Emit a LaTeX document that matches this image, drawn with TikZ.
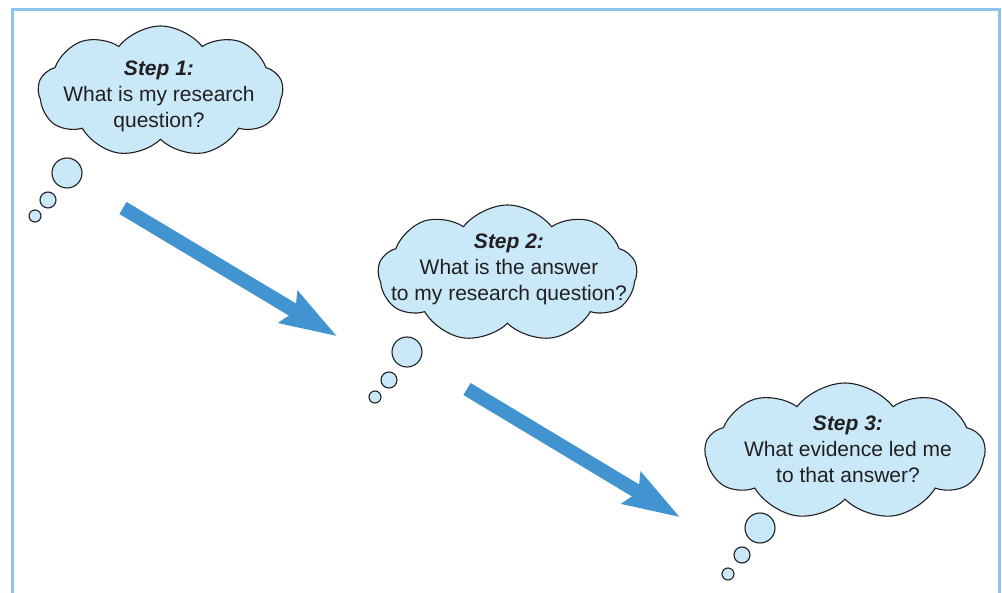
\documentclass[tikz,border=0pt]{standalone}
\usepackage{fontspec}
\setmainfont{Liberation Sans}
\usetikzlibrary{shapes.symbols,arrows.meta}
\definecolor{framec}{HTML}{8CC3EC}
\definecolor{cloudfill}{HTML}{C9E9F8}
\definecolor{inkc}{HTML}{231F20}
\definecolor{arrowc}{HTML}{4294D0}
\tikzset{
  thought/.style={cloud, cloud puffs=9, cloud puff arc=105, aspect=2,
    draw=inkc, fill=cloudfill, line width=1.1pt, inner sep=0pt},
  bubble/.style={circle, draw=inkc, fill=cloudfill, line width=1.1pt, inner sep=0pt},
  thoughttext/.style={align=center, text=inkc, font=\fontsize{21}{26}\selectfont},
  bigarrow/.style={arrowc, line width=14pt,
    -{Stealth[length=56pt, width=35pt, inset=7pt]}},
  framestyle/.style={framec, line width=3pt}
}
\begin{document}
\begin{tikzpicture}[x=1pt,y=-1pt]
\useasboundingbox (0,0) rectangle (1002,593);
\draw[framestyle] (12,595) -- (12,9.5) -- (999,9.5) -- (999,595);

% cloud 1
\node[thought, minimum width=245pt, minimum height=131pt] (c1) at (160.5,91.5) {};
\node[thoughttext] (t1) at (159,96) {\textbf{\textit{Step 1:}}\\What is my research\\question?};
\node[bubble, minimum size=30pt] (b1a) at (67,173) {};
\node[bubble, minimum size=16pt] (b1b) at (48,200) {};
\node[bubble, minimum size=12pt] (b1c) at (35,216) {};

% cloud 2
\node[thought, minimum width=259pt, minimum height=137pt] (c2) at (507.5,273.5) {};
\node[thoughttext] (t2) at (509,269) {\textbf{\textit{Step 2:}}\\What is the answer\\to my research question?};
\node[bubble, minimum size=30pt] (b2a) at (407,352) {};
\node[bubble, minimum size=16pt] (b2b) at (389,380) {};
\node[bubble, minimum size=12pt] (b2c) at (375,397) {};

% cloud 3
\node[thought, minimum width=280pt, minimum height=137pt] (c3) at (845,451.5) {};
\node[thoughttext] (t3) at (848,449) {\textbf{\textit{Step 3:}}\\What evidence led me\\to that answer?};
\node[bubble, minimum size=30pt] (b3a) at (760,528) {};
\node[bubble, minimum size=16pt] (b3b) at (742,555) {};
\node[bubble, minimum size=12pt] (b3c) at (728,574) {};

% arrows
\coordinate (a1s) at (123,208);
\coordinate (a1e) at (337.5,336.5);
\coordinate (a2s) at (467,389);
\coordinate (a2e) at (680.5,517.5);
\draw[bigarrow] (a1s) -- (a1e);
\draw[bigarrow] (a2s) -- (a2e);
\end{tikzpicture}
\end{document}
